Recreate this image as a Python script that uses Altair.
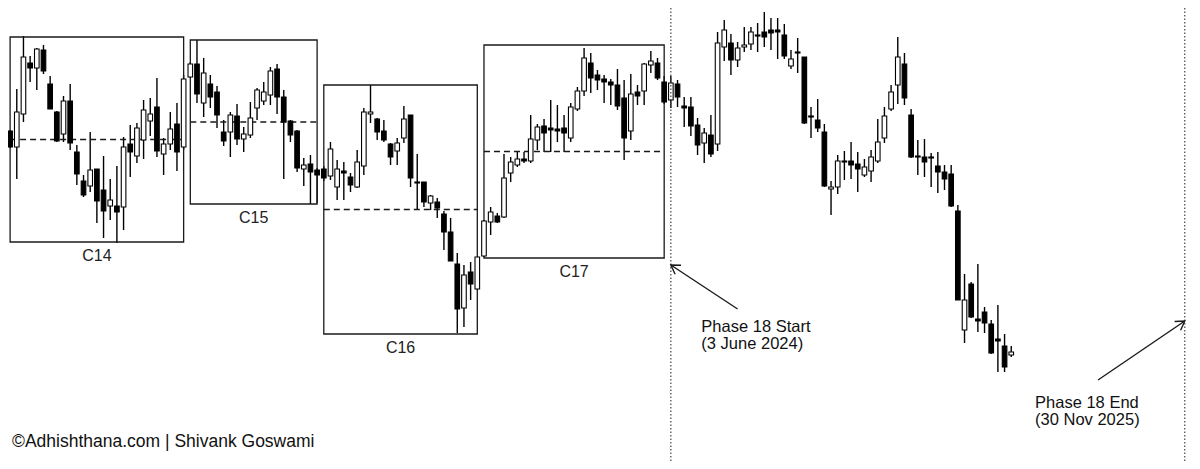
import math
import altair as alt
import pandas as pd

# ---------------- weekly OHLC ----------------
first_week = "2022-07-04"

opens = [335, 349, 333, 366, 417, 412, 430, 396, 368, 346,
         379, 328, 299, 294, 311, 290, 274, 274, 273, 336,
         324, 340, 359, 373, 326, 336, 356, 333, 403, 416,
         377, 396, 388, 348, 348, 364, 341, 345, 372, 379,
         385, 411, 383, 359, 349, 311, 316, 310, 311, 304,
         293, 309, 303, 293, 314, 366, 361, 349, 336, 329,
         342, 365, 298, 298, 277, 278, 266, 248, 216, 172,
         208, 191, 224, 258, 264, 263, 307, 315, 321, 319,
         340, 354, 352, 351, 352, 342, 371, 389, 417, 405,
         401, 398, 395, 382, 349, 388, 389, 415, 417, 398,
         380, 396, 374, 373, 355, 337, 345, 336, 433, 437,
         420, 433, 436, 445, 448, 450, 450, 445, 414, 428,
         423, 364, 360, 348, 291, 293, 319, 319, 316, 305,
         309, 319, 342, 371, 395, 416, 365, 324, 323, 323,
         314, 308, 306, 269, 150, 196, 161, 168, 156, 141,
         134, 125]

highs = [363, 350, 391, 444, 424, 432, 435, 404, 369, 384,
         396, 335, 305, 348, 311, 324, 301, 314, 343, 355,
         357, 380, 382, 402, 342, 368, 377, 405, 418, 440,
         422, 405, 394, 360, 368, 376, 353, 378, 392, 398,
         413, 416, 390, 360, 350, 322, 325, 312, 314, 338,
         320, 318, 307, 330, 372, 395, 362, 360, 337, 342,
         374, 365, 326, 298, 285, 282, 269, 262, 227, 215,
         218, 223, 260, 273, 267, 326, 323, 328, 328, 365,
         356, 361, 380, 375, 365, 377, 393, 432, 427, 410,
         405, 401, 411, 400, 406, 395, 417, 429, 422, 404,
         404, 400, 383, 383, 362, 352, 365, 448, 460, 446,
         438, 453, 453, 457, 468, 462, 462, 456, 430, 442,
         423, 373, 381, 356, 299, 325, 329, 338, 328, 321,
         330, 361, 373, 395, 443, 427, 371, 340, 341, 327,
         328, 315, 315, 275, 206, 198, 216, 173, 160, 175,
         146, 134]

lows = [325, 332, 301, 358, 398, 390, 406, 371, 338, 338,
        330, 295, 283, 288, 257, 242, 260, 237, 250, 303,
        317, 321, 344, 323, 305, 330, 309, 330, 402, 377,
        363, 372, 352, 334, 323, 335, 328, 342, 360, 375,
        375, 366, 301, 338, 308, 294, 276, 277, 299, 300,
        280, 280, 288, 292, 305, 357, 340, 338, 315, 315,
        337, 293, 270, 273, 270, 262, 230, 219, 147, 153,
        180, 190, 223, 245, 257, 262, 298, 313, 317, 317,
        330, 328, 328, 338, 328, 338, 369, 384, 387, 390,
        377, 375, 370, 320, 340, 375, 375, 407, 400, 376,
        372, 373, 353, 344, 325, 317, 323, 329, 419, 405,
        413, 428, 430, 428, 433, 430, 421, 421, 411, 407,
        356, 342, 348, 293, 265, 286, 300, 301, 288, 303,
        298, 317, 337, 369, 376, 375, 322, 305, 303, 293,
        287, 290, 273, 180, 137, 162, 148, 147, 126, 108,
        108, 123]

closes = [356, 333, 368, 423, 412, 431, 409, 371, 339, 379,
          337, 306, 285, 310, 279, 269, 280, 268, 333, 328,
          352, 370, 366, 329, 336, 351, 328, 401, 416, 386,
          407, 383, 365, 339, 365, 341, 346, 362, 390, 388,
          409, 383, 358, 345, 312, 315, 308, 305, 302, 331,
          311, 307, 295, 318, 368, 368, 348, 340, 323, 337,
          361, 302, 297, 278, 284, 272, 248, 219, 171, 205,
          196, 223, 259, 268, 258, 302, 318, 321, 319, 341,
          353, 347, 350, 349, 347, 373, 389, 422, 402, 400,
          398, 395, 374, 342, 386, 384, 416, 419, 402, 378,
          397, 383, 372, 354, 335, 347, 326, 437, 450, 420,
          432, 435, 448, 444, 443, 447, 448, 424, 421, 427,
          357, 363, 352, 294, 293, 319, 318, 315, 311, 313,
          323, 338, 364, 388, 423, 382, 323, 323, 318, 322,
          308, 301, 274, 180, 180, 163, 159, 157, 127, 139,
          113, 128]

# ---------------- clusters (boxes) ----------------
cluster_names = ["C14", "C15", "C16", "C17"]
cluster_start = ["2022-07-11", "2023-01-16", "2023-06-05", "2023-11-20"]
cluster_end = ["2023-01-09", "2023-05-29", "2023-11-13", "2024-05-27"]
cluster_top = [443, 440, 395, 435]
cluster_bottom = [238, 276, 146, 222]

# ---------------- phase markers & annotations ----------------
phase_dates = ["2024-06-03", "2025-11-24"]
arrow_from_date = ["2024-08-12", "2025-08-25"]
arrow_from_price = [171, 100]
arrow_to_price = [215, 159]

phase_title = ["Phase 18 Start", "Phase 18 End"]
phase_subtitle = ["(3 June 2024)", "(30 Nov 2025)"]
phase_text_date = ["2024-07-05", "2025-06-20"]
phase_text_price = [148, 72]

credit_text = ["©Adhishthana.com | Shivank Goswami"]
credit_date = ["2022-07-13"]
credit_price = [33]

grid_dates = [(2023, 1), (2023, 7), (2024, 1), (2024, 7), (2025, 1), (2025, 7)]
grid_prices = [62, 123, 184, 245, 305, 366, 427]

# ---------------- frames ----------------
W, H = 1184, 453
x_dom = ((2022, 7, 8, 19), (2025, 12, 1, 14))
y_dom = [19, 472]

dates = pd.date_range(first_week, periods=len(opens), freq="7D")
candles = pd.DataFrame({
    "date": dates.strftime("%Y-%m-%d"),
    "open": opens, "high": highs, "low": lows, "close": closes,
})

boxes = pd.DataFrame({
    "name": cluster_names, "start": cluster_start, "end": cluster_end,
    "top": cluster_top, "bottom": cluster_bottom,
})
boxes["mid"] = (boxes["top"] + boxes["bottom"]) / 2
s = pd.to_datetime(boxes["start"])
e = pd.to_datetime(boxes["end"])
boxes["center"] = (s + (e - s) / 2).dt.strftime("%Y-%m-%dT%H:%M:%S")

phases = pd.DataFrame({"date": phase_dates})

t0 = pd.Timestamp(year=x_dom[0][0], month=x_dom[0][1], day=x_dom[0][2], hour=x_dom[0][3])
t1 = pd.Timestamp(year=x_dom[1][0], month=x_dom[1][1], day=x_dom[1][2], hour=x_dom[1][3])
px_per_day = W / ((t1 - t0).total_seconds() / 86400)
px_per_price = H / (y_dom[1] - y_dom[0])
angles = []
for fd, td, fp, tp in zip(arrow_from_date, phase_dates, arrow_from_price, arrow_to_price):
    dx = (pd.Timestamp(td) - pd.Timestamp(fd)).days * px_per_day
    dy = -(tp - fp) * px_per_price
    angles.append(math.degrees(math.atan2(dy, dx)) % 360)
arrows = pd.DataFrame({
    "from_date": arrow_from_date, "to_date": phase_dates,
    "from_price": arrow_from_price, "to_price": arrow_to_price,
    "angle": angles,
})

ptext = pd.DataFrame({
    "text": [[t, st] for t, st in zip(phase_title, phase_subtitle)],
    "date": phase_text_date, "price": phase_text_price,
})
ctext = pd.DataFrame({"text": credit_text, "date": credit_date, "price": credit_price})

xscale = alt.Scale(
    type="utc", padding=0,
    domain=[alt.DateTime(year=y, month=m, date=d, hours=h, utc=True) for y, m, d, h in x_dom],
)
yscale = alt.Scale(domain=y_dom, zero=False, nice=False, padding=0)

xaxis = alt.Axis(values=[alt.DateTime(year=y, month=m, date=1, utc=True) for y, m in grid_dates],
                 grid=True, labels=False, ticks=False, domain=False, title=None,
                 gridColor="#efefef", gridWidth=1)
yaxis = alt.Axis(values=grid_prices, grid=True, labels=False, ticks=False, domain=False,
                 title=None, gridColor="#efefef", gridWidth=1)

INK = "#1a1a1a"

wicks = alt.Chart(candles).mark_rule(color="black", strokeWidth=1.4).encode(
    x=alt.X("date:T", scale=xscale, axis=xaxis),
    y=alt.Y("low:Q", scale=yscale, axis=yaxis),
    y2="high:Q",
)

bodies = alt.Chart(candles).mark_bar(size=4.6, stroke="black", strokeWidth=1.1).encode(
    x=alt.X("date:T", scale=xscale, axis=None),
    y=alt.Y("open:Q", scale=yscale, axis=None),
    y2="close:Q",
    fill=alt.condition("datum.close >= datum.open", alt.value("white"), alt.value("black")),
)

box_rects = alt.Chart(boxes).mark_rect(fillOpacity=0, stroke=INK, strokeWidth=1.3).encode(
    x=alt.X("start:T", scale=xscale, axis=None),
    x2="end:T",
    y=alt.Y("bottom:Q", scale=yscale, axis=None),
    y2="top:Q",
)

box_mid = alt.Chart(boxes).mark_rule(color=INK, strokeWidth=1.4, strokeDash=[6, 4]).encode(
    x=alt.X("start:T", scale=xscale, axis=None),
    x2="end:T",
    y=alt.Y("mid:Q", scale=yscale, axis=None),
)

box_labels = alt.Chart(boxes).mark_text(
    baseline="top", align="center", dy=6, font="Liberation Sans", fontSize=16, color="#222"
).encode(
    x=alt.X("center:T", scale=xscale, axis=None),
    y=alt.Y("bottom:Q", scale=yscale, axis=None),
    text="name:N",
)

phase_lines = alt.Chart(phases).mark_rule(color="#444", strokeWidth=1.2, strokeDash=[1.5, 2]).encode(
    x=alt.X("date:T", scale=xscale, axis=None),
)

arrow_lines = alt.Chart(arrows).mark_rule(color=INK, strokeWidth=1.4).encode(
    x=alt.X("from_date:T", scale=xscale, axis=None),
    x2="to_date:T",
    y=alt.Y("from_price:Q", scale=yscale, axis=None),
    y2="to_price:Q",
)

arrow_heads = alt.Chart(arrows).mark_point(
    shape="M-1,-0.62L0,0L-1,0.62", filled=False, size=300, stroke=INK, strokeWidth=1.4, opacity=1
).encode(
    x=alt.X("to_date:T", scale=xscale, axis=None),
    y=alt.Y("to_price:Q", scale=yscale, axis=None),
    angle=alt.Angle("angle:Q", scale=None),
)

phase_labels = alt.Chart(ptext).mark_text(
    align="left", baseline="alphabetic", font="Liberation Sans", fontSize=16.5,
    lineHeight=17, color="#111"
).encode(
    x=alt.X("date:T", scale=xscale, axis=None),
    y=alt.Y("price:Q", scale=yscale, axis=None),
    text="text",
)

credit = alt.Chart(ctext).mark_text(
    align="left", baseline="alphabetic", font="Liberation Sans", fontSize=17.5, color="#111"
).encode(
    x=alt.X("date:T", scale=xscale, axis=None),
    y=alt.Y("price:Q", scale=yscale, axis=None),
    text="text:N",
)

chart = alt.layer(
    wicks, box_rects, box_mid, bodies, box_labels, phase_lines,
    arrow_lines, arrow_heads, phase_labels, credit,
).properties(
    width=W, height=H, padding=0,
    autosize=alt.AutoSizeParams(type="none"),
    background="white",
).configure_view(strokeWidth=0)

chart.save("out.html", embed_options={"renderer": "svg", "actions": False})
